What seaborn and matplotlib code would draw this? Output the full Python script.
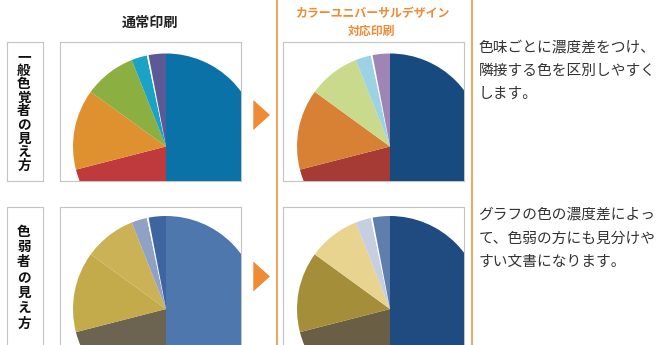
import matplotlib
matplotlib.use("Agg")
import matplotlib.pyplot as plt
from matplotlib.patches import Polygon
import seaborn as sns

# Shares of each slice (clockwise from 12 o'clock); "gap" is a thin white divider
slice_names = ["A", "B", "C", "D", "E", "gap", "F"]
shares = [50, 21, 14, 9, 2.7, 0.3, 3]

normal_colors = ["#0B72A8", "#BE3A3C", "#E0912F", "#8CAF42", "#1AA3C4", "#FFFFFF", "#5B5A97"]
cud_colors = ["#174B80", "#A63B36", "#D88033", "#C9DA8D", "#9DD2E5", "#FFFFFF", "#9F84B6"]
normal_weak_colors = ["#4E77AE", "#6C6350", "#C3AB4B", "#CCB256", "#8FA2C4", "#FFFFFF", "#3F65A1"]
cud_weak_colors = ["#1F4B80", "#6A5F45", "#A48E3A", "#E8D48F", "#C6CEE2", "#FFFFFF", "#5F7EAE"]

column_titles = ["通常印刷", "カラーユニバーサルデザイン", "対応印刷"]
row_labels = ["一般色覚者の見え方", "色弱者の見え方"]
notes = [
    ["色味ごとに濃度差をつけ、", "隣接する色を区別しやすく", "します。"],
    ["グラフの色の濃度差によっ", "て、色弱の方にも見分けや", "すい文書になります。"],
]

sns.set_theme(style="white")
plt.rcParams["font.family"] = ["Noto Sans CJK JP", "DejaVu Sans"]

W, H = 664, 345
fig = plt.figure(figsize=(W / 100, H / 100), dpi=100)
fig.patch.set_facecolor("white")

ORANGE = "#EF8B35"
BORDER = "#C4C4C4"


def rect(x0, y0, x1, y1):
    return [x0 / W, 1 - y1 / H, (x1 - x0) / W, (y1 - y0) / H]


def fx(x):
    return x / W


def fy(y):
    return 1 - y / H


def boxed_axes(x0, y0, x1, y1):
    ax = fig.add_axes(rect(x0, y0, x1, y1))
    ax.set_xticks([])
    ax.set_yticks([])
    ax.set_facecolor("white")
    for s in ax.spines.values():
        s.set_color(BORDER)
        s.set_linewidth(0.8)
        s.set_zorder(0.5)
    return ax


def pie_panel(x0, y0, x1, y1, cx, cy, colors, radius=93):
    ax = boxed_axes(x0, y0, x1, y1)
    w, h = x1 - x0, y1 - y0
    palette = sns.color_palette(colors)
    wedges, _ = ax.pie(shares, colors=palette, startangle=90, counterclock=False,
                       center=(cx - x0, y1 - cy), radius=radius, frame=True,
                       wedgeprops=dict(linewidth=0))
    for wdg in wedges:
        wdg.set_clip_on(True)
        wdg.set_clip_path(ax.patch)
    ax.set_aspect("auto")
    ax.set_xlim(0, w)
    ax.set_ylim(0, h)
    ax.set_xticks([])
    ax.set_yticks([])
    return ax


# pie panels
pie_panel(59.5, 42.3, 240.5, 181, 166, 146.5, normal_colors)
pie_panel(283.3, 42.3, 464.3, 181, 390, 146.5, cud_colors)
pie_panel(59.5, 207.5, 240.5, 346.5, 166, 309, normal_weak_colors)
pie_panel(283.3, 207.5, 464.3, 346.5, 390, 309, cud_weak_colors)

# row label boxes with vertical text
boxed_axes(6.5, 42.3, 42.7, 181)
boxed_axes(6.5, 207.5, 42.7, 346.5)
for label, start, step in [(row_labels[0], 57, 13.6), (row_labels[1], 231.7, 15.3)]:
    for i, ch in enumerate(label):
        fig.text(fx(24), fy(start + i * step), ch, ha="center", va="center",
                 fontsize=9.8, fontweight="bold", color="#111111")

# column titles
fig.text(fx(150), fy(22.5), column_titles[0], ha="center", va="center",
         fontsize=10.2, fontweight="bold", color="#222222")
fig.text(fx(372), fy(13.5), column_titles[1], ha="center", va="center",
         fontsize=8.6, fontweight="bold", color=ORANGE)
fig.text(fx(372), fy(31.5), column_titles[2], ha="center", va="center",
         fontsize=8.6, fontweight="bold", color=ORANGE)

# orange frame around the CUD column
for xline in (276.7, 471.7):
    fig.add_artist(plt.Line2D([fx(xline), fx(xline)], [0, 1], color=ORANGE,
                              linewidth=1.1, transform=fig.transFigure))

# arrows between columns
for yc in (115, 276.5):
    tri = Polygon([[fx(253.3), fy(yc - 15)], [fx(253.3), fy(yc + 15)], [fx(270), fy(yc)]],
                  closed=True, facecolor=ORANGE, edgecolor="none", transform=fig.transFigure)
    fig.add_artist(tri)

# explanatory notes
for lines, ys in [(notes[0], [47.5, 70.5, 93.5]), (notes[1], [215, 238.5, 262])]:
    for line, y in zip(lines, ys):
        fig.text(fx(478.5), fy(y), line, ha="left", va="center",
                 fontsize=10.6, color="#333333")

fig.savefig("out.png", dpi=100, facecolor="white")
